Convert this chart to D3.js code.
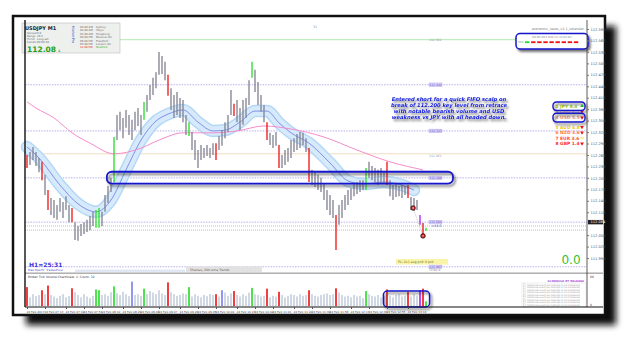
<!DOCTYPE html>
<html>
<head>
<meta charset="utf-8">
<script src="https://cdn.jsdelivr.net/npm/d3@7"></script>
<style>
  body { margin: 0; background: #fff; }
  text { font-family: "DejaVu Sans", sans-serif; }
</style>
<script>
// USDJPY M1 bars (high / low per bar)
const highs = [112.260,112.268,112.281,112.268,112.252,112.242,112.208,112.168,112.147,112.142,
  112.129,112.147,112.137,112.152,112.129,112.121,112.084,112.074,112.079,112.084,
  112.090,112.100,112.111,112.116,112.121,112.111,112.155,112.179,112.200,112.307,
  112.365,112.373,112.357,112.378,112.365,112.352,112.373,112.383,112.365,112.399,
  112.417,112.443,112.462,112.477,112.530,112.519,112.504,112.470,112.435,112.417,
  112.425,112.409,112.404,112.365,112.346,112.320,112.299,112.273,112.286,112.278,
  112.286,112.278,112.291,112.291,112.310,112.325,112.346,112.365,112.430,112.394,
  112.404,112.383,112.404,112.409,112.456,112.504,112.483,112.451,112.417,112.391,
  112.346,112.318,112.312,112.320,112.286,112.260,112.273,112.278,112.299,112.304,
  112.315,112.320,112.318,112.304,112.278,112.221,112.215,112.208,112.200,112.184,
  112.168,112.155,112.142,112.103,112.129,112.142,112.155,112.168,112.173,112.187,
  112.189,112.194,112.194,112.226,112.242,112.231,112.226,112.221,112.226,112.215,
  112.242,112.194,112.181,112.187,112.179,112.181,112.179,112.181,112.150,112.147,
  112.142,112.103,112.082,112.069];
const lows = [112.226,112.234,112.247,112.231,112.215,112.194,112.155,112.116,112.103,112.095,
  112.090,112.111,112.095,112.116,112.084,112.084,112.037,112.035,112.048,112.053,
  112.058,112.063,112.074,112.069,112.069,112.074,112.111,112.134,112.163,112.189,
  112.299,112.325,112.304,112.331,112.312,112.299,112.325,112.336,112.312,112.352,
  112.373,112.404,112.417,112.435,112.470,112.472,112.456,112.415,112.378,112.357,
  112.365,112.357,112.346,112.312,112.310,112.273,112.247,112.226,112.247,112.252,
  112.257,112.252,112.260,112.247,112.273,112.284,112.304,112.320,112.365,112.362,
  112.346,112.325,112.339,112.357,112.391,112.462,112.425,112.391,112.373,112.346,
  112.299,112.286,112.278,112.284,112.226,112.226,112.234,112.242,112.252,112.268,
  112.273,112.278,112.286,112.268,112.189,112.181,112.176,112.168,112.163,112.142,
  112.116,112.103,112.095,112.011,112.077,112.095,112.116,112.129,112.142,112.152,
  112.158,112.163,112.168,112.168,112.200,112.194,112.189,112.181,112.187,112.184,
  112.181,112.152,112.142,112.150,112.152,112.147,112.155,112.147,112.116,112.113,
  112.116,112.077,112.045,112.061];
const volumes = [48,22,30,25,28,40,30,52,28,24,
  20,26,30,22,25,45,35,28,22,30,
  24,20,26,42,40,28,30,26,35,50,
  32,28,36,30,25,62,28,30,26,44,
  30,38,34,30,40,32,28,60,35,30,
  26,28,32,30,48,24,30,26,22,28,
  25,30,28,30,24,40,34,26,32,38,
  28,24,30,26,34,46,30,28,24,26,
  44,22,26,24,36,28,22,26,30,28,
  24,30,26,28,40,30,26,24,28,30,
  32,28,30,45,34,28,24,26,22,28,
  24,26,20,38,30,26,24,28,22,26,
  42,26,22,28,30,24,26,36,24,30,
  26,40,44,12];
const redBars = [0,5,7,15,47,63,69,80,84,94,103,120,127,132];
const greenBars = [23,24,29,39,54,75,113,133];
const purpleBars = [131];
const blueVolBars = [35,65];

// moving averages, sampled at bars
const maBlueBars = [0,4,11,17,23,28,33,38,43,47,52,57,62,66,71,76,80,84,88,94,101,107,112,119,125,129];
const maBlue = [112.281,112.252,112.181,112.132,112.111,112.142,112.221,112.299,112.349,112.367,112.378,112.346,112.323,
  112.325,112.346,112.375,112.375,112.344,112.318,112.291,112.239,112.192,112.184,112.189,112.181,112.168];
const maPinkBars = [0,3,9,15,21,29,38,44,52,62,70,79,88,99,110,121,132];
const maPink = [112.399,112.383,112.357,112.318,112.291,112.263,112.278,112.299,112.318,112.318,112.323,
  112.336,112.328,112.307,112.273,112.242,112.221];

// horizontal levels
const levelPrices = [112.444, 112.323, 112.200, 112.084, 111.967];
const stopPrices = [112.074, 112.063];
const greenLevel = 112.562;
const beigeLevel = 112.263;
const currentPrice = 112.084;
const entryBars = [128.7, 132];
const entryPrices = [112.121, 112.048];

const priceTicks = [111.99,112.02,112.05,112.08,112.11,112.14,112.17,112.20,112.23,112.26,112.29,
  112.32,112.35,112.38,112.41,112.44,112.47,112.50,112.53,112.56,112.59];
const timeBars = [0,6,13,19,25,32,38,44,51,57,63,70,76,82,89,95,101,108,114,120,127];
const timeLabels = ["24 Feb 2017","24 Feb 07:13","24 Feb 07:32","24 Feb 07:51","24 Feb 08:10","24 Feb 08:29",
  "24 Feb 08:48","24 Feb 09:07","24 Feb 09:26","24 Feb 09:45","24 Feb 10:04","24 Feb 10:23","24 Feb 10:42",
  "24 Feb 11:01","24 Feb 11:20","24 Feb 11:39","24 Feb 11:58","24 Feb 12:17","24 Feb 12:36","24 Feb 12:55","24 Feb 13:14"];

const sessions = ["Sydney","Tokyo","Hongkong","Moscow (O)","Frankfurt","London (O)","NewYork"];
const sessionTimes = ["04:48 AM","02:48 AM","01:48 AM","08:48 PM","06:48 PM","05:48 PM","12:48 PM"];
const strengthRows = ["1 JPY 8.4","3 CAD 6.1","4 USD 5.5","5 AUD 4.8","6 NZD 3.6","7 EUR 3.6","8 GBP 1.4"];
const strengthDir = ["up","down","down","down","down","flat","down"];
const trendStates = ["up","down","down","down","down","down","down","down","down"];
const noteLines = ["Entered short for a quick FIFO scalp on",
  "break of 112.200 key level from retrace",
  "with notable bearish volume and USD",
  "weakness vs JPY with all headed down."];

function draw() {
  let width = 625, height = 340;
  let svg = d3.select("body").append("svg").attr("width", width).attr("height", height);
  let defs = svg.append("defs");
  defs.append("filter").attr("id", "blur").attr("x", "-10%").attr("y", "-10%").attr("width", "130%").attr("height", "130%")
    .append("feGaussianBlur").attr("stdDeviation", 3);
  defs.append("filter").attr("id", "tshadow").attr("x", "-10%").attr("y", "-30%").attr("width", "130%").attr("height", "180%")
    .append("feDropShadow").attr("dx", 1.8).attr("dy", 2.2).attr("stdDeviation", 1.1)
    .attr("flood-color", "#333").attr("flood-opacity", 0.7);

  // page with shadow
  svg.append("rect").attr("x", 26).attr("y", 26).attr("width", 590).attr("height", 299)
    .attr("fill", "#111").attr("filter", "url(#blur)");
  svg.append("rect").attr("x", 13).attr("y", 16).attr("width", 592).attr("height", 299)
    .attr("fill", "#fff").attr("stroke", "#111").attr("stroke-width", 2.5);

  let x = d3.scaleLinear().domain([0, highs.length - 1]).range([27, 426]);
  let y = d3.scaleLinear().domain([111.956, 112.611]).range([271, 21]);
  let yv = d3.scaleLinear().domain([0, 66]).range([306, 280]);
  const L = 25, R = 587;

  let colorOf = i => redBars.includes(i) ? "#ee1111" : greenBars.includes(i) ? "#22dd22"
    : purpleBars.includes(i) ? "#aa22ee" : null;

  // levels
  svg.append("line").attr("x1", L).attr("x2", R).attr("y1", y(greenLevel)).attr("y2", y(greenLevel))
    .attr("stroke", "#a8e6a8").attr("stroke-width", 0.9);
  svg.append("line").attr("x1", L).attr("x2", R).attr("y1", y(beigeLevel)).attr("y2", y(beigeLevel))
    .attr("stroke", "#f1dcc0").attr("stroke-width", 1);
  svg.selectAll("line.lvl").data(levelPrices).join("line").attr("class", "lvl")
    .attr("x1", L).attr("x2", R).attr("y1", d => y(d)).attr("y2", d => y(d))
    .attr("stroke", "#a49ae6").attr("stroke-width", 0.8).attr("stroke-dasharray", "1.5,1.2");
  svg.selectAll("line.stp").data(stopPrices).join("line").attr("class", "stp")
    .attr("x1", L).attr("x2", R).attr("y1", d => y(d)).attr("y2", d => y(d))
    .attr("stroke", "#8fb0a8").attr("stroke-width", 0.7).attr("stroke-dasharray", "1,1");

  // blue MA band
  let blueLine = d3.line().x((d, i) => x(maBlueBars[i])).y(d => y(d)).curve(d3.curveMonotoneX);
  svg.append("path").attr("d", blueLine(maBlue)).attr("fill", "none").attr("stroke", "#b4d8f5")
    .attr("stroke-width", 12.5).attr("stroke-linecap", "round");
  svg.append("path").attr("d", blueLine(maBlue)).attr("fill", "none").attr("stroke", "#d6eafb")
    .attr("stroke-width", 9.5).attr("stroke-linecap", "round");
  svg.append("path").attr("d", blueLine(maBlue)).attr("fill", "none").attr("stroke", "#5a6ae0")
    .attr("stroke-width", 0.7);

  // pink MA
  let pinkLine = d3.line().x((d, i) => x(maPinkBars[i])).y(d => y(d)).curve(d3.curveMonotoneX);
  svg.append("path").attr("d", pinkLine(maPink)).attr("fill", "none").attr("stroke", "#f58ccc").attr("stroke-width", 1);

  // price bars
  svg.selectAll("line.bar").data(highs).join("line").attr("class", "bar")
    .attr("x1", (d, i) => x(i)).attr("x2", (d, i) => x(i))
    .attr("y1", d => y(d)).attr("y2", (d, i) => y(lows[i]))
    .attr("stroke", (d, i) => colorOf(i) || "#808090").attr("stroke-width", 1.3);

  // key level box
  svg.append("rect").attr("x", x(26.6)).attr("y", y(112.216)).attr("width", x(142) - x(26.6))
    .attr("height", y(112.185) - y(112.216)).attr("rx", 5).attr("fill", "none")
    .attr("stroke", "#1414cc").attr("stroke-width", 1.8).attr("filter", "url(#tshadow)");

  // level tags
  svg.selectAll("g.tag").data(levelPrices).join("g").attr("class", "tag")
    .attr("transform", d => `translate(${x(134)},${y(d)})`)
    .each(function (d) {
      let g = d3.select(this);
      g.append("rect").attr("x", 0).attr("y", -1.8).attr("width", 13).attr("height", 3.6)
        .attr("fill", "#d8d2f6").attr("stroke", "#b4aaee").attr("stroke-width", 0.4);
      g.append("text").attr("x", 6.5).attr("y", 1.2).attr("text-anchor", "middle")
        .attr("font-size", 3).attr("fill", "#6a5acd").text(d3.format(".3f")(d));
    });
  svg.append("text").attr("x", x(134)).attr("y", y(beigeLevel) + 3.5).attr("font-size", 3)
    .attr("fill", "#999").text(d3.format(".3f")(beigeLevel));
  svg.append("text").attr("x", x(134)).attr("y", y(greenLevel) + 1).attr("font-size", 3)
    .attr("fill", "#999").text(d3.format(".3f")(greenLevel));
  svg.append("text").attr("x", x(134)).attr("y", y(levelPrices[4]) + 4).attr("font-size", 3)
    .attr("fill", "#888").text("TP/82.8");
  svg.append("text").attr("x", x(134.8)).attr("y", y(stopPrices[0]) + 1.5).attr("font-size", 3.2)
    .attr("fill", "#2233aa").text("\u00ab 66.5");

  // entry markers
  svg.append("line").attr("x1", x(entryBars[0])).attr("y1", y(entryPrices[0]))
    .attr("x2", x(entryBars[1])).attr("y2", y(entryPrices[1]))
    .attr("stroke", "#999").attr("stroke-width", 0.6).attr("stroke-dasharray", "1,1");
  svg.selectAll("circle.entry").data(entryPrices).join("circle").attr("class", "entry")
    .attr("cx", (d, i) => x(entryBars[i])).attr("cy", d => y(d)).attr("r", 2.3)
    .attr("fill", "#d42020").attr("stroke", "#111").attr("stroke-width", 0.7);
  svg.selectAll("circle.dot").data(entryPrices).join("circle").attr("class", "dot")
    .attr("cx", (d, i) => x(entryBars[i])).attr("cy", d => y(d)).attr("r", 0.7).attr("fill", "#fff");

  // annotation
  svg.selectAll("text.note").data(noteLines).join("text").attr("class", "note")
    .attr("x", 449).attr("y", (d, i) => 101.3 + i * 5.8).attr("text-anchor", "middle")
    .attr("font-size", 5.2).attr("font-weight", "bold").attr("font-style", "italic")
    .attr("fill", "#1822dd").attr("filter", "url(#tshadow)").text(d => d);

  // currency strength
  const rowY = [106, 111.5, 117.5, 127, 132.5, 138, 143.5];
  const rowC = ["#9ccc1c", "#f6c9a8", "#f59a74", "#f0cc10", "#ff7a33", "#ff5030", "#ff3030"];
  svg.selectAll("text.cs").data(strengthRows).join("text").attr("class", "cs")
    .attr("x", 555.5).attr("y", (d, i) => rowY[i] + 1.6).attr("font-size", 4.4).attr("font-weight", "bold")
    .attr("fill", (d, i) => rowC[i]).text(d => d);
  svg.selectAll("path.arr").data(strengthDir).join("path").attr("class", "arr")
    .attr("transform", (d, i) => `translate(582,${rowY[i]}) rotate(${d === "down" ? 180 : 0})`)
    .attr("d", d => d === "flat" ? "M-1.8,-0.5h3.6v1h-3.6z" : d3.symbol(d3.symbolTriangle, 6)())
    .attr("fill", d => d === "up" ? "#22cc22" : d === "flat" ? "#f0e040" : "#ee1111");
  [[0, 102, 110.5], [2, 113.2, 122]].forEach(b => {
    svg.append("rect").attr("x", 553).attr("y", b[1]).attr("width", 32).attr("height", b[2] - b[1])
      .attr("rx", 3.5).attr("fill", "none").attr("stroke", "#1414cc").attr("stroke-width", 1.4)
      .attr("filter", "url(#tshadow)");
  });

  // top left info panel
  svg.append("rect").attr("x", 22).attr("y", 23).attr("width", 98).attr("height", 30)
    .attr("fill", "#eef0ee").attr("stroke", "#b0b0b0").attr("stroke-width", 0.5);
  svg.append("text").attr("x", 25).attr("y", 29.5).attr("font-size", 5).attr("font-weight", "bold")
    .attr("fill", "#222").text("USDJPY  M1");
  ["Spread", "Range", "Trend", "Candle"].forEach((t, i) => {
    svg.append("text").attr("x", 27).attr("y", 33.8 + i * 3.2).attr("font-size", 2.7).attr("fill", "#666").text(t);
    svg.append("text").attr("x", 37).attr("y", 33.8 + i * 3.2).attr("font-size", 2.7).attr("fill", "#666")
      .text(["0.8", "16.5", "Long-adr", "00:00:18"][i]);
  });
  svg.append("text").attr("x", 27).attr("y", 51.5).attr("font-size", 7.5).attr("font-weight", "bold")
    .attr("fill", "#22a022").text("112.08");
  svg.append("text").attr("x", 58).attr("y", 51.5).attr("font-size", 3.6).attr("fill", "#22a022").text("4");
  svg.append("text").attr("transform", "translate(72,26) rotate(90)").attr("font-size", 3.4)
    .attr("fill", "#4050cc").text("MarketPro");
  svg.selectAll("text.st").data(sessionTimes).join("text").attr("class", "st")
    .attr("x", 80).attr("y", (d, i) => 28 + i * 3.4).attr("font-size", 2.7)
    .attr("fill", (d, i) => i === 6 ? "#dd2222" : "#666").text(d => d);
  svg.selectAll("text.sn").data(sessions).join("text").attr("class", "sn")
    .attr("x", 96).attr("y", (d, i) => 28 + i * 3.4).attr("font-size", 2.7)
    .attr("fill", (d, i) => i === 6 ? "#22aa22" : "#666").text(d => d);

  // top right trend box
  svg.append("text").attr("x", 584).attr("y", 29.5).attr("text-anchor", "end").attr("font-size", 3.4)
    .attr("fill", "#777").text("economic_news_v1.1_calendar");
  svg.append("rect").attr("x", 516).attr("y", 33.5).attr("width", 72).attr("height", 15.5).attr("rx", 4)
    .attr("fill", "#fff").attr("stroke", "#1414cc").attr("stroke-width", 1.5).attr("filter", "url(#tshadow)");
  svg.append("text").attr("x", 552).attr("y", 38).attr("text-anchor", "middle").attr("font-size", 2.6)
    .attr("fill", "#888").text("M1   M5   M15   M30   H1   H4   D1   W1");
  svg.append("text").attr("x", 518).attr("y", 43.2).attr("font-size", 2.6).attr("fill", "#6a6").text("TRD");
  svg.selectAll("rect.trd").data(trendStates).join("rect").attr("class", "trd")
    .attr("x", (d, i) => 525 + i * 6.1).attr("y", 41.3).attr("width", 4.4).attr("height", 1.8)
    .attr("fill", d => d === "up" ? "#22dd22" : "#ee1111");

  svg.append("text").attr("x", 313).attr("y", 28).attr("font-size", 3.2).attr("fill", "#888").text("31");

  // bottom of main window
  svg.append("text").attr("x", 571).attr("y", 263.5).attr("text-anchor", "middle").attr("font-size", 12)
    .attr("fill", "#33c233").text("0.0");
  svg.append("rect").attr("x", 396).attr("y", 259).attr("width", 52).attr("height", 5.5).attr("fill", "#f8f4a8");
  svg.append("text").attr("x", 398).attr("y", 263).attr("font-size", 3.2).attr("fill", "#777733")
    .text("PL: 2x1  avg prd: 0  prd");
  svg.append("text").attr("x", 29).attr("y", 267).attr("font-size", 6).attr("font-weight", "bold")
    .attr("fill", "#3535dd").text("H1=25:31");
  svg.append("text").attr("x", 28).attr("y", 271).attr("font-size", 2.8).attr("fill", "#4040cc")
    .text("Max.Pips/Hr, Trades/Hour");
  svg.append("rect").attr("x", 75).attr("y", 269.5).attr("width", 110).attr("height", 2.5).attr("fill", "#e2e7f5");
  svg.append("rect").attr("x", 186).attr("y", 266.5).attr("width", 76).attr("height", 5.5).attr("fill", "#e2e2e2");
  svg.append("text").attr("x", 190).attr("y", 270.6).attr("font-size", 3.2).attr("fill", "#666")
    .text("Shanau, 200 ema Trends");

  // separator
  svg.append("rect").attr("x", L).attr("y", 272.5).attr("width", 578).attr("height", 1.4).attr("fill", "#a8a8a8");

  // volume window
  svg.append("text").attr("x", 28).attr("y", 277.6).attr("font-size", 3).attr("fill", "#333")
    .text("Broker Tick Volume   ChartScale: 2, Count: 32");
  svg.selectAll("rect.vol").data(volumes).join("rect").attr("class", "vol")
    .attr("x", (d, i) => x(i) - 0.8).attr("width", 1.6)
    .attr("y", d => yv(d)).attr("height", d => yv(0) - yv(d))
    .attr("fill", (d, i) => colorOf(i) || (blueVolBars.includes(i) ? "#7b7bee" : "#c5cfdc"));
  svg.append("rect").attr("x", x(118.8)).attr("y", 291).attr("width", x(134.2) - x(118.8)).attr("height", 16)
    .attr("rx", 4).attr("fill", "none").attr("stroke", "#1414cc").attr("stroke-width", 1.5)
    .attr("filter", "url(#tshadow)");
  svg.append("text").attr("x", 590).attr("y", 277.5).attr("font-size", 3).attr("fill", "#444").text("66");
  svg.append("text").attr("x", 590).attr("y", 306).attr("font-size", 3).attr("fill", "#444").text("0");

  // events panel
  svg.append("rect").attr("x", 522).attr("y", 283).attr("width", 64).attr("height", 23.5)
    .attr("fill", "none").attr("stroke", "#ddd").attr("stroke-width", 0.5);
  svg.append("text").attr("x", 584).attr("y", 282).attr("text-anchor", "end").attr("font-size", 2.8)
    .attr("font-weight", "bold").attr("fill", "#a060dd").text("SCHEDULE BY RELEASE");
  svg.selectAll("text.ev").data(d3.range(9)).join("text").attr("class", "ev")
    .attr("x", 527).attr("y", d => 285.6 + d * 2.55).attr("font-size", 2.3).attr("fill", "#a0a0a0")
    .text("Additional event per settings is not scheduled");
  svg.selectAll("rect.ev").data(d3.range(9)).join("rect").attr("class", "ev")
    .attr("x", 523.5).attr("y", d => 283.9 + d * 2.55).attr("width", 1.8).attr("height", 1.8)
    .attr("fill", "none").attr("stroke", "#bbb").attr("stroke-width", 0.3);

  // borders
  svg.append("line").attr("x1", L).attr("x2", L).attr("y1", 20).attr("y2", 307).attr("stroke", "#111").attr("stroke-width", 1.4);
  svg.append("line").attr("x1", R).attr("x2", R).attr("y1", 20).attr("y2", 307).attr("stroke", "#333").attr("stroke-width", 0.8);
  svg.append("line").attr("x1", L).attr("x2", 603).attr("y1", 307).attr("y2", 307).attr("stroke", "#111").attr("stroke-width", 1.2);

  // price axis (the tick under the current-price box is covered by it)
  let yAxis = d3.axisRight(y).tickValues(priceTicks.filter(t => Math.abs(t - currentPrice) > 0.012))
    .tickFormat(d3.format(".3f")).tickSize(2);
  svg.append("g").attr("transform", `translate(${R},0)`).call(yAxis)
    .call(g => g.select(".domain").remove())
    .call(g => g.selectAll("text").attr("font-size", 3.6).attr("fill", "#555").attr("x", 3.5)
      .attr("font-family", "DejaVu Sans"))
    .call(g => g.selectAll("line").attr("stroke", "#777"));
  let cp = svg.append("g").attr("transform", `translate(${R},${y(currentPrice)})`);
  cp.append("rect").attr("x", 1).attr("y", -2.2).attr("width", 15).attr("height", 4.4).attr("fill", "#222");
  cp.append("text").attr("x", 3.5).attr("y", 1.3).attr("font-size", 3.6).attr("fill", "#fff")
    .text(d3.format(".3f")(currentPrice));

  // time axis
  let xAxis = d3.axisBottom(x).tickValues(timeBars).tickFormat((d, i) => timeLabels[i]).tickSize(2);
  svg.append("g").attr("transform", "translate(0,307)").call(xAxis)
    .call(g => g.select(".domain").remove())
    .call(g => g.selectAll("text").attr("font-size", 2.9).attr("fill", "#444").attr("text-anchor", "start")
      .attr("x", -1).attr("dy", "0.5em").attr("font-family", "DejaVu Sans"))
    .call(g => g.selectAll("line").attr("stroke", "#555"));
}
</script>
</head>
<body>
<script>
  draw();
</script>
</body>
</html>
